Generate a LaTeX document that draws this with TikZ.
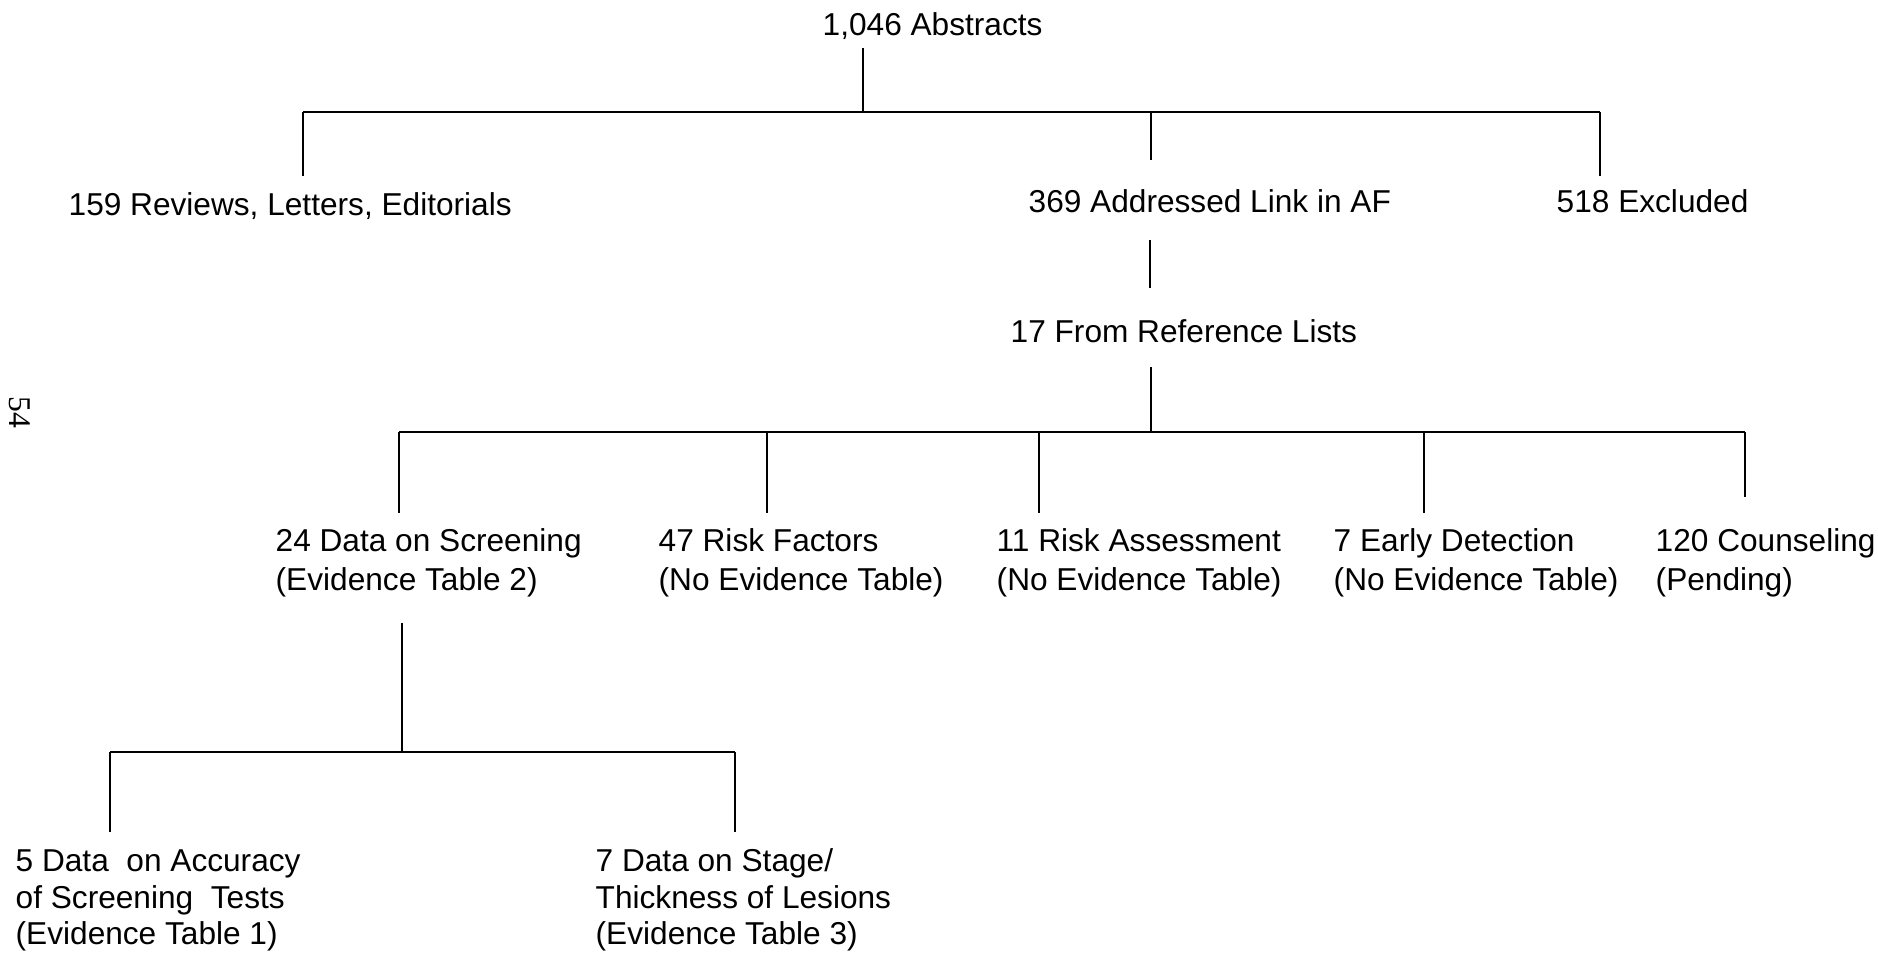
\documentclass[tikz,border=0pt]{standalone}
\usepackage{fontspec}
\setmainfont{Liberation Sans}
\newfontfamily\pagefont{Liberation Serif}
\usetikzlibrary{positioning}

\begin{document}
\begin{tikzpicture}[x=0.1mm, y=-0.1mm,
    lbl/.style={anchor=base west, inner sep=0pt, align=left,
      font=\fontsize{9}{10.9}\selectfont},
    lbltight/.style={lbl, font=\fontsize{9}{10.25}\selectfont},
    stem/.style={line width=0.35pt},
    bar/.style={line width=0.5pt}]
    \useasboundingbox (0,0) rectangle (1878,956);
    % Level 1: all abstracts
    \node[lbl] (abs) at (822, 35) {1,046 Abstracts};
    % Level 2
    \node[lbl] (rev) at (68, 215)   {159 Reviews, Letters, Editorials};
    \node[lbl] (adl) at (1028, 212) {369 Addressed Link in AF};
    \node[lbl] (exc) at (1556, 212) {518 Excluded};
    \node[lbl] (refl) at (1010, 342) {17 From Reference Lists};
    % Level 3: topics (base = last line)
    \node[lbl] (scr) at (275, 590)  {24 Data on Screening\\(Evidence Table 2)};
    \node[lbl] (rsk) at (658, 590)  {47 Risk Factors\\(No Evidence Table)};
    \node[lbl] (ras) at (996, 590)  {11 Risk Assessment\\(No Evidence Table)};
    \node[lbl] (edt) at (1333, 590) {7 Early Detection\\(No Evidence Table)};
    \node[lbl] (cns) at (1655, 590) {120 Counseling\\(Pending)};
    % Level 4: screening data split
    \node[lbltight] (acc) at (15, 944)
      {5 Data\ \ on Accuracy\\of Screening\ \ Tests\\(Evidence Table 1)};
    \node[lbltight] (stg) at (595, 944)
      {7 Data on Stage/\\Thickness of Lesions\\(Evidence Table 3)};
    % Page number, turned
    \node[rotate=-90, inner sep=0pt, font=\pagefont\fontsize{9}{10}\selectfont]
      (pg) at (20, 412) {54};

    % Line ends and junctions
    \coordinate (abs-s) at (863, 48);
    \coordinate (j-abs) at (863, 112);
    \coordinate (rev-n) at (303, 176);
    \coordinate (adl-n) at (1151, 160);
    \coordinate (exc-n) at (1600, 176);
    \coordinate (adl-s) at (1150, 240);
    \coordinate (refl-n) at (1150, 288);
    \coordinate (refl-s) at (1151, 367);
    \coordinate (j-refl) at (1151, 432);
    \coordinate (scr-n) at (399, 513);
    \coordinate (rsk-n) at (767, 513);
    \coordinate (ras-n) at (1039, 513);
    \coordinate (edt-n) at (1424, 513);
    \coordinate (cns-n) at (1745, 497);
    \coordinate (scr-s) at (402, 623);
    \coordinate (j-scr) at (402, 752);
    \coordinate (acc-n) at (110, 832);
    \coordinate (stg-n) at (735, 832);

    % Tree from the abstracts
    \draw[stem] (abs-s) -- (j-abs);
    \draw[bar] (rev-n |- j-abs) -- (exc-n |- j-abs);
    \draw[stem] (rev-n |- j-abs) -- (rev-n);
    \draw[stem] (adl-n |- j-abs) -- (adl-n);
    \draw[stem] (exc-n |- j-abs) -- (exc-n);
    % Link to reference lists
    \draw[stem] (adl-s) -- (refl-n);
    % Tree from the reference lists
    \draw[stem] (refl-s) -- (j-refl);
    \draw[bar] (scr-n |- j-refl) -- (cns-n |- j-refl);
    \draw[stem] (scr-n |- j-refl) -- (scr-n);
    \draw[stem] (rsk-n |- j-refl) -- (rsk-n);
    \draw[stem] (ras-n |- j-refl) -- (ras-n);
    \draw[stem] (edt-n |- j-refl) -- (edt-n);
    \draw[stem] (cns-n |- j-refl) -- (cns-n);
    % Tree from the screening data
    \draw[stem] (scr-s) -- (j-scr);
    \draw[bar] (acc-n |- j-scr) -- (stg-n |- j-scr);
    \draw[stem] (acc-n |- j-scr) -- (acc-n);
    \draw[stem] (stg-n |- j-scr) -- (stg-n);
\end{tikzpicture}
\end{document}
